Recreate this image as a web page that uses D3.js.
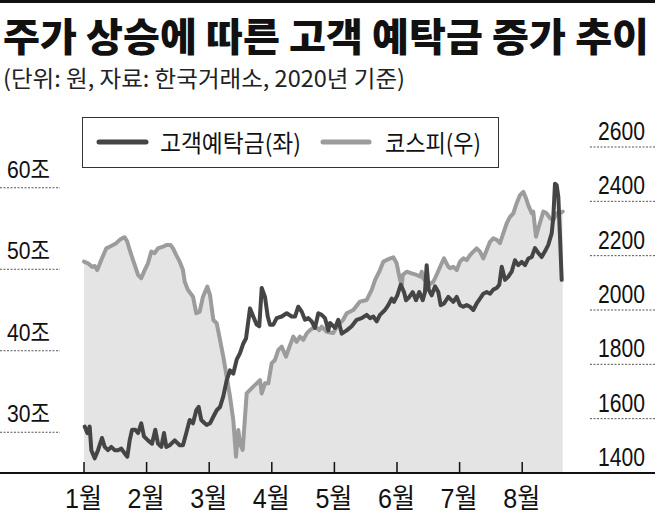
<!DOCTYPE html>
<html>
<head>
<meta charset="utf-8">
<script src="https://cdn.jsdelivr.net/npm/d3@7"></script>
<style>
  body { margin: 0; background: #fff; }
  svg { display: block; font-family: "Noto Sans CJK KR", "Noto Sans", sans-serif; }
  .num { font-family: "Liberation Sans", "Noto Sans CJK KR", sans-serif; }
</style>
</head>
<body>
<script>
// 월 눈금 (x 위치는 1월 1일부터의 "월" 단위)
var months = ["1월", "2월", "3월", "4월", "5월", "6월", "7월", "8월"];
var leftTicks = [30, 40, 50, 60];
var rightTicks = [1400, 1600, 1800, 2000, 2200, 2400, 2600];

// 코스피(우) [월 위치, 지수]
var kospi = [
  [0,2178],[0.064,2172],[0.128,2159],[0.171,2162],[0.212,2147],[0.276,2184],[0.356,2227],
  [0.41,2233],[0.463,2239],[0.516,2246],[0.57,2258],[0.607,2264],[0.65,2268],[0.692,2251],
  [0.73,2221],[0.783,2184],[0.81,2166],[0.863,2129],[0.915,2117],[0.97,2147],[1.022,2172],
  [1.075,2215],[1.129,2209],[1.182,2227],[1.262,2233],[1.315,2239],[1.385,2239],[1.422,2227],
  [1.474,2202],[1.529,2178],[1.581,2147],[1.609,2104],[1.661,2074],[1.741,2049],[1.794,1988],
  [1.848,1994],[1.901,2049],[1.97,2086],[2.013,2055],[2.066,1963],[2.12,1951],[2.173,1890],
  [2.225,1828],[2.28,1754],[2.332,1681],[2.385,1595],[2.428,1460],[2.465,1558],[2.492,1509],
  [2.535,1485],[2.572,1607],[2.599,1693],[2.652,1706],[2.704,1718],[2.759,1730],[2.812,1742],
  [2.839,1693],[2.891,1730],[2.944,1730],[2.998,1804],[3.051,1816],[3.104,1853],[3.158,1865],
  [3.227,1828],[3.264,1853],[3.343,1902],[3.398,1883],[3.45,1902],[3.503,1890],[3.558,1914],
  [3.61,1926],[3.69,1939],[3.759,1926],[3.797,1939],[3.877,1920],[3.978,1915],[4.058,1945],
  [4.137,1963],[4.197,1988],[4.302,2000],[4.409,2031],[4.516,2037],[4.596,2074],[4.649,2110],
  [4.728,2147],[4.781,2178],[4.861,2187],[4.941,2194],[4.995,2172],[5.037,2123],[5.075,2086],
  [5.091,2129],[5.155,2141],[5.235,2135],[5.315,2129],[5.367,2123],[5.395,2141],[5.42,2117],
  [5.5,2092],[5.58,2104],[5.644,2135],[5.714,2172],[5.751,2190],[5.82,2159],[5.847,2154],
  [5.899,2159],[5.954,2147],[6.006,2178],[6.059,2190],[6.113,2184],[6.166,2202],[6.219,2215],
  [6.273,2227],[6.326,2215],[6.379,2190],[6.433,2221],[6.486,2251],[6.538,2264],[6.593,2258],
  [6.645,2246],[6.698,2282],[6.752,2319],[6.805,2343],[6.858,2356],[6.912,2393],[6.965,2423],
  [7.018,2435],[7.061,2411],[7.097,2386],[7.152,2356],[7.177,2362],[7.22,2270],[7.273,2313],
  [7.337,2362],[7.391,2356],[7.444,2338],[7.497,2331],[7.551,2356],[7.604,2356],[7.647,2362]
];

// 고객예탁금(좌) [월 위치, 조 원]
var deposit = [
  [0.011,30.7],[0.053,29.9],[0.091,30.7],[0.117,27.8],[0.171,26.8],[0.224,27.8],[0.288,29.3],
  [0.331,28.2],[0.383,27.8],[0.436,28.2],[0.49,27.8],[0.543,27.8],[0.596,28.0],[0.65,27.4],
  [0.692,27.0],[0.73,29.0],[0.767,30.3],[0.819,30.3],[0.863,29.9],[0.915,31.1],[0.958,29.5],
  [1.022,29.0],[1.086,28.6],[1.139,30.3],[1.182,28.6],[1.235,28.2],[1.278,29.9],[1.315,28.2],
  [1.369,28.4],[1.449,29.0],[1.529,28.4],[1.581,28.4],[1.634,29.9],[1.688,31.5],[1.741,31.1],
  [1.794,32.7],[1.832,33.1],[1.874,31.5],[1.928,31.1],[1.96,30.9],[2.013,31.1],[2.066,31.9],
  [2.12,32.7],[2.173,33.1],[2.225,34.4],[2.28,36.4],[2.332,37.6],[2.385,37.2],[2.439,38.9],
  [2.492,39.7],[2.545,40.9],[2.588,41.5],[2.652,45.2],[2.704,44.2],[2.759,43.2],[2.8,43.0],
  [2.839,47.7],[2.891,46.6],[2.935,44.2],[2.971,43.2],[3.024,43.2],[3.078,44.0],[3.158,44.2],
  [3.238,44.6],[3.318,44.2],[3.371,44.2],[3.423,45.4],[3.478,44.8],[3.53,43.8],[3.583,44.0],
  [3.637,43.6],[3.69,42.8],[3.743,44.6],[3.797,44.4],[3.85,44.0],[3.903,42.5],[3.93,43.4],
  [4.01,42.8],[4.062,43.8],[4.117,42.1],[4.197,42.5],[4.276,43.0],[4.356,43.8],[4.436,44.0],
  [4.516,44.4],[4.569,44.0],[4.621,44.2],[4.676,43.6],[4.728,44.4],[4.808,45.0],[4.861,45.6],
  [4.915,46.4],[4.952,46.0],[5.005,46.8],[5.059,48.1],[5.112,47.2],[5.144,46.2],[5.197,46.6],
  [5.251,47.2],[5.304,46.2],[5.356,47.2],[5.411,46.2],[5.447,47.2],[5.474,50.5],[5.506,47.5],
  [5.554,46.8],[5.607,47.9],[5.66,47.2],[5.698,45.6],[5.751,45.8],[5.82,46.6],[5.847,46.4],
  [5.899,46.0],[5.954,46.6],[6.006,45.6],[6.059,45.4],[6.113,45.6],[6.166,45.4],[6.219,45.0],
  [6.273,45.8],[6.326,46.4],[6.379,47.0],[6.433,47.2],[6.486,47.0],[6.538,47.5],[6.593,47.7],
  [6.634,48.1],[6.673,50.3],[6.725,48.7],[6.778,49.1],[6.832,49.7],[6.885,51.1],[6.938,50.5],
  [6.992,50.9],[7.045,50.5],[7.097,51.3],[7.152,51.5],[7.204,52.6],[7.257,52.0],[7.311,51.5],
  [7.364,52.2],[7.417,53.0],[7.471,54.4],[7.497,56.4],[7.524,60.5],[7.551,60.3],[7.577,58.9],
  [7.604,54.0],[7.631,48.7]
];

var W = 655, H = 514;
var svg = d3.select("body").append("svg")
  .attr("width", W)
  .attr("height", H);

// 위쪽 굵은 선
svg.append("rect").attr("x", 0).attr("y", 0).attr("width", W).attr("height", 3).attr("fill", "#111");

svg.append("text")
  .attr("x", 3).attr("y", 51)
  .attr("font-size", 39).attr("font-weight", 900)
  .attr("textLength", 646).attr("lengthAdjust", "spacingAndGlyphs")
  .attr("fill", "#111")
  .text("주가 상승에 따른 고객 예탁금 증가 추이");

svg.append("text")
  .attr("x", 3).attr("y", 87)
  .attr("font-size", 23)
  .attr("textLength", 402).attr("lengthAdjust", "spacingAndGlyphs")
  .attr("fill", "#222")
  .text("(단위: 원, 자료: 한국거래소, 2020년 기준)");

var xScale = d3.scaleLinear().domain([0, 8]).range([84, 84 + 8 * 62.6]);
var yLeft = d3.scaleLinear().domain([25, 65]).range([473, 147]);
var yRight = d3.scaleLinear().domain([1400, 2600]).range([473, 147]);

// 코스피 영역
var area = d3.area()
  .x(function(d) { return xScale(d[0]); })
  .y0(yRight(1400))
  .y1(function(d) { return yRight(d[1]); });

svg.append("path")
  .datum(kospi)
  .attr("d", area)
  .attr("fill", "#e4e4e4");

// 왼쪽 눈금
var gl = svg.append("g");
gl.selectAll("line").data(leftTicks).enter().append("line")
  .attr("x1", 0).attr("x2", 60)
  .attr("y1", function(d) { return yLeft(d); })
  .attr("y2", function(d) { return yLeft(d); })
  .attr("stroke", "#555").attr("stroke-width", 1).attr("stroke-dasharray", "2,1.5");
gl.selectAll("text").data(leftTicks).enter().append("text")
  .attr("class", "num")
  .attr("x", 7)
  .attr("y", function(d) { return yLeft(d) - 10; })
  .attr("font-size", 24).attr("fill", "#111")
  .attr("textLength", 43).attr("lengthAdjust", "spacingAndGlyphs")
  .text(function(d) { return d + "조"; });

// 오른쪽 눈금
var gr = svg.append("g");
gr.selectAll("line").data(rightTicks.filter(function(d) { return d > 1400; })).enter().append("line")
  .attr("x1", 590).attr("x2", W)
  .attr("y1", function(d) { return yRight(d); })
  .attr("y2", function(d) { return yRight(d); })
  .attr("stroke", "#555").attr("stroke-width", 1).attr("stroke-dasharray", "2,1.5");
gr.selectAll("text").data(rightTicks).enter().append("text")
  .attr("class", "num")
  .attr("x", 598)
  .attr("y", function(d) { return yRight(d) - 7; })
  .attr("font-size", 25).attr("fill", "#111")
  .attr("textLength", 47).attr("lengthAdjust", "spacingAndGlyphs")
  .text(function(d) { return d; });

// 선
var line = d3.line()
  .x(function(d) { return xScale(d[0]); });

svg.append("path")
  .datum(kospi)
  .attr("d", line.y(function(d) { return yRight(d[1]); }))
  .attr("fill", "none").attr("stroke", "#9c9c9c").attr("stroke-width", 4)
  .attr("stroke-linejoin", "round").attr("stroke-linecap", "round");

svg.append("path")
  .datum(deposit)
  .attr("d", line.y(function(d) { return yLeft(d[1]); }))
  .attr("fill", "none").attr("stroke", "#454545").attr("stroke-width", 4)
  .attr("stroke-linejoin", "round").attr("stroke-linecap", "round");

// x축
svg.append("line")
  .attr("x1", 0).attr("x2", W).attr("y1", 473).attr("y2", 473)
  .attr("stroke", "#111").attr("stroke-width", 2);

var gx = svg.append("g");
gx.selectAll("line").data(months).enter().append("line")
  .attr("x1", function(d, i) { return xScale(i); })
  .attr("x2", function(d, i) { return xScale(i); })
  .attr("y1", 462).attr("y2", 473)
  .attr("stroke", "#111").attr("stroke-width", 1.5);
gx.selectAll("text").data(months).enter().append("text")
  .attr("class", "num")
  .attr("x", function(d, i) { return xScale(i) - 19; })
  .attr("y", 508)
  .attr("font-size", 27).attr("fill", "#111")
  .attr("textLength", 37).attr("lengthAdjust", "spacingAndGlyphs")
  .text(function(d) { return d; });

// 범례
svg.append("rect")
  .attr("x", 82.5).attr("y", 117.5).attr("width", 416).attr("height", 50)
  .attr("fill", "#fff").attr("stroke", "#333").attr("stroke-width", 1);
svg.append("line")
  .attr("x1", 99).attr("x2", 146).attr("y1", 142).attr("y2", 142)
  .attr("stroke", "#454545").attr("stroke-width", 5).attr("stroke-linecap", "round");
svg.append("text")
  .attr("x", 160).attr("y", 152)
  .attr("font-size", 24).attr("fill", "#111")
  .attr("textLength", 141).attr("lengthAdjust", "spacingAndGlyphs")
  .text("고객예탁금(좌)");
svg.append("line")
  .attr("x1", 323).attr("x2", 369).attr("y1", 142).attr("y2", 142)
  .attr("stroke", "#9c9c9c").attr("stroke-width", 5).attr("stroke-linecap", "round");
svg.append("text")
  .attr("x", 385).attr("y", 152)
  .attr("font-size", 24).attr("fill", "#111")
  .attr("textLength", 96).attr("lengthAdjust", "spacingAndGlyphs")
  .text("코스피(우)");
</script>
</body>
</html>
